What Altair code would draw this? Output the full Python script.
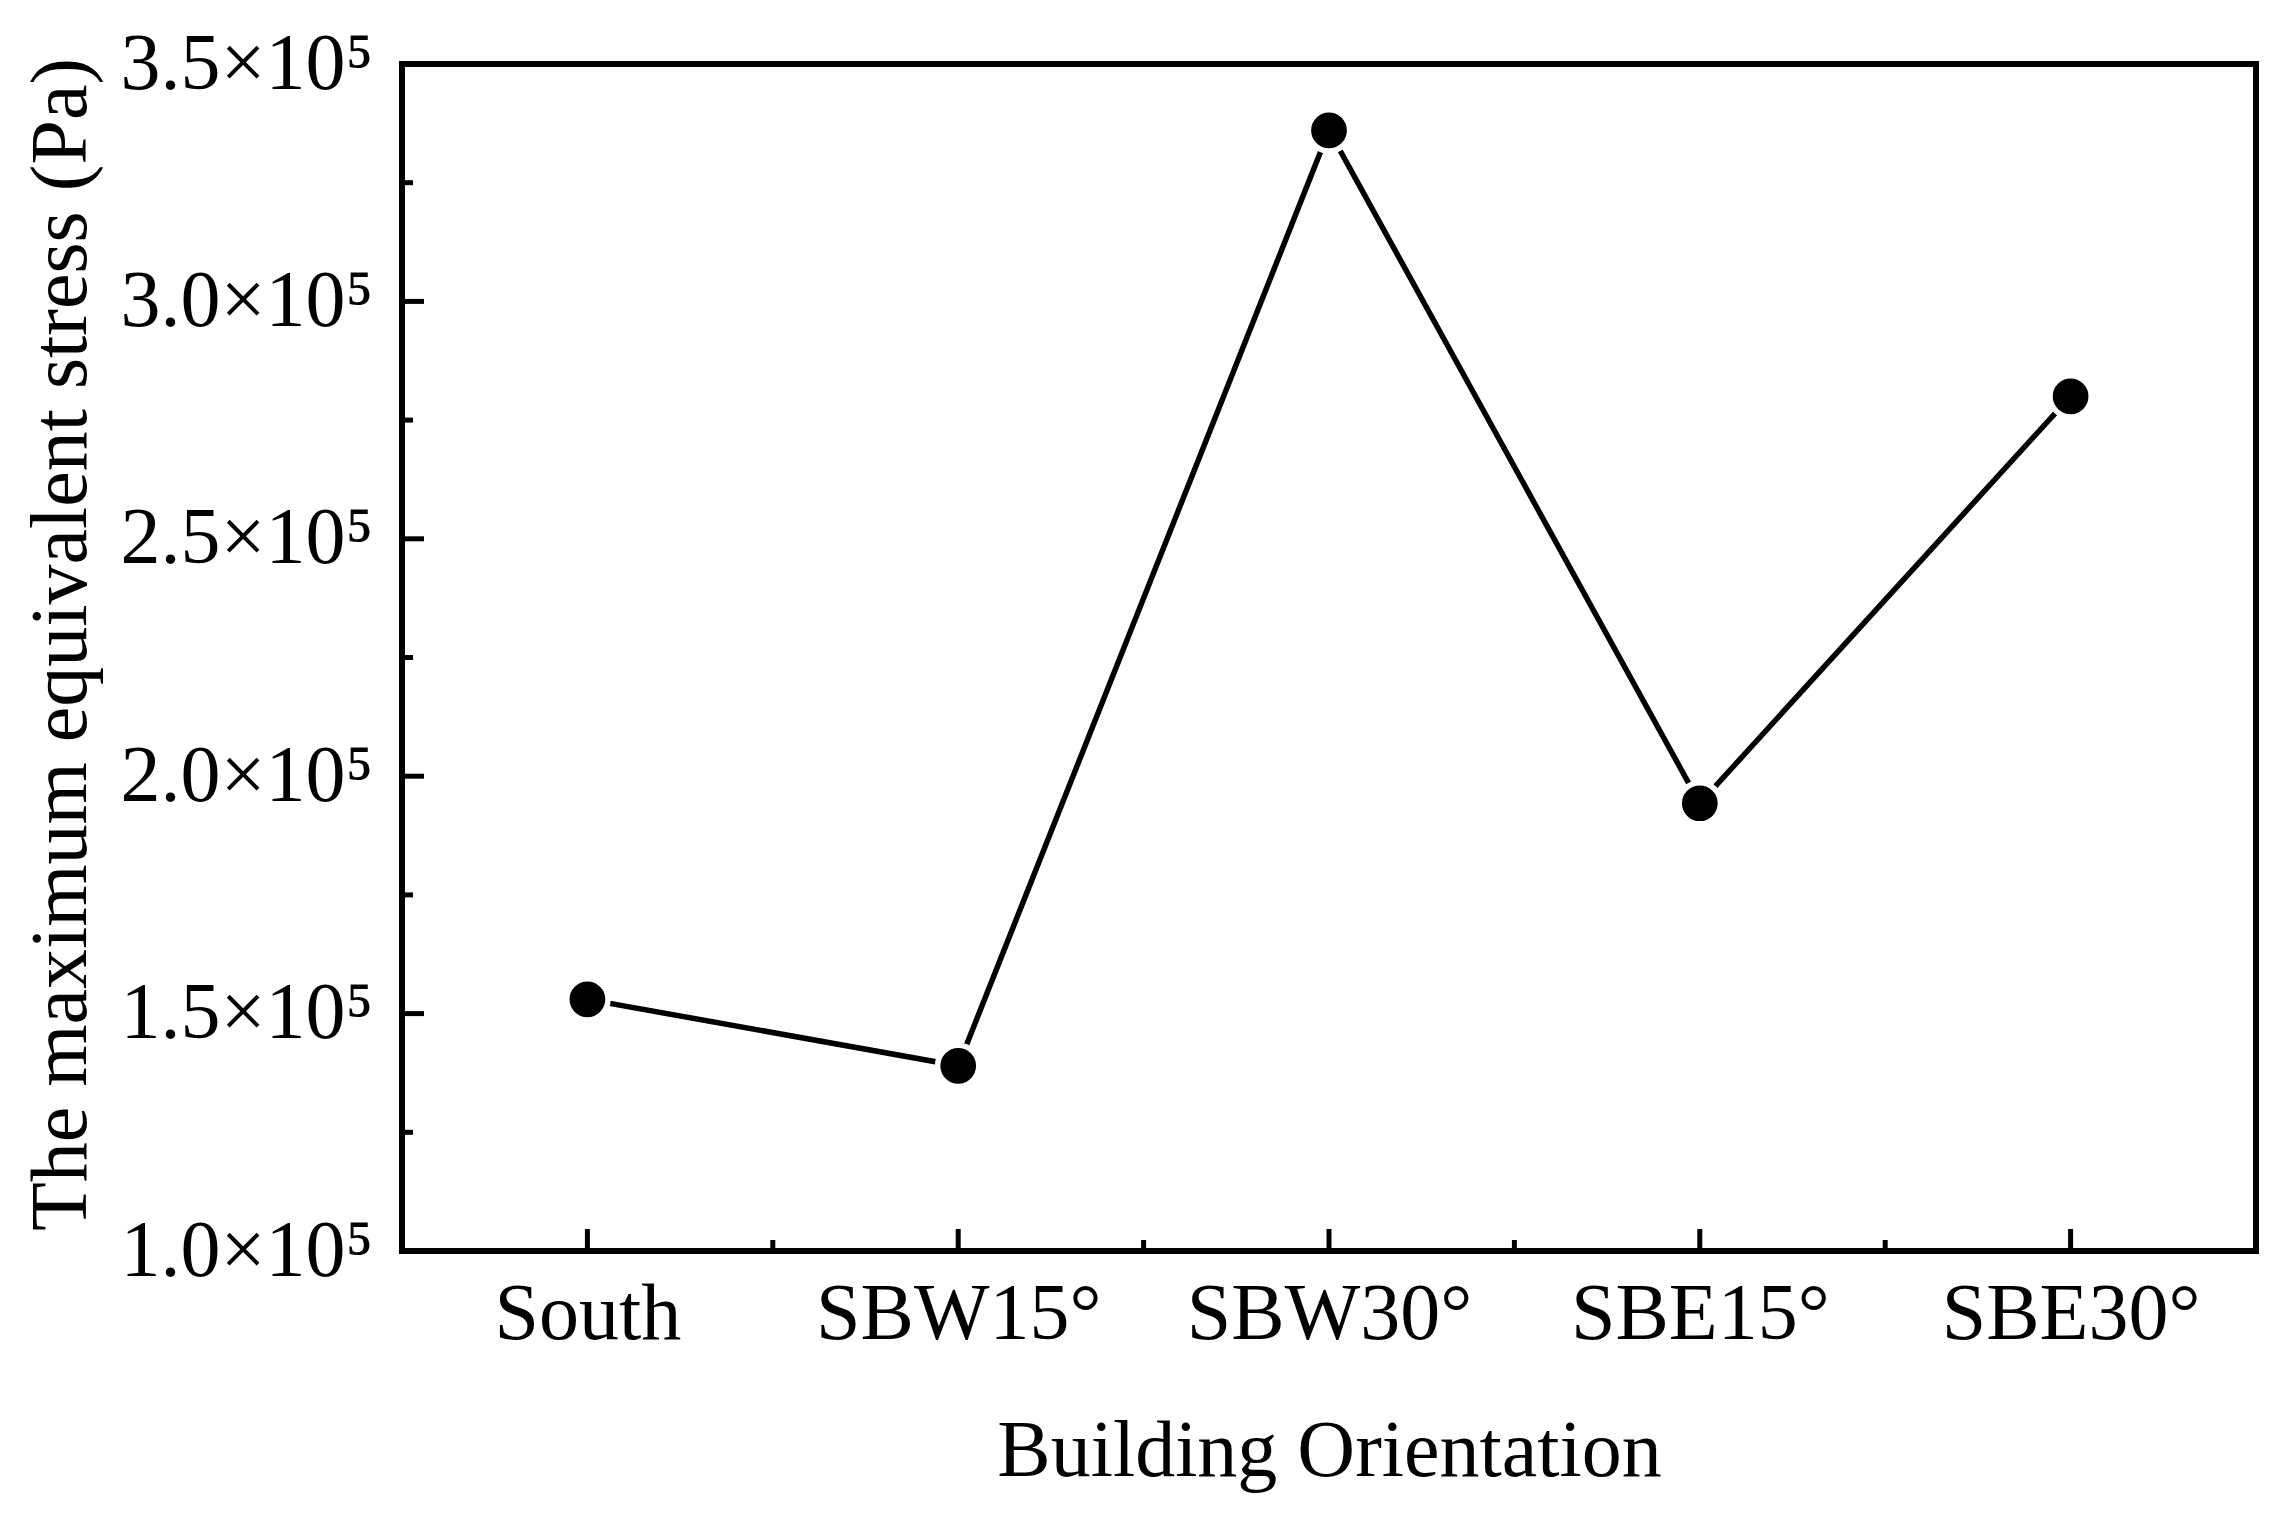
import altair as alt
import pandas as pd

categories = ["South", "SBW15°", "SBW30°", "SBE15°", "SBE30°"]
stress = [1.53e5, 1.39e5, 3.36e5, 1.943e5, 2.80e5]
y_major = [1.0e5, 1.5e5, 2.0e5, 2.5e5, 3.0e5, 3.5e5]
y_minor = [1.25e5, 1.75e5, 2.25e5, 2.75e5, 3.25e5]
x_major = [0, 1, 2, 3, 4]
x_minor = [0.5, 1.5, 2.5, 3.5]

W, H = 1854, 1187
FONT = "Liberation Serif"
FS = 80

df = pd.DataFrame({"x": list(range(len(categories))), "y": stress, "cat": categories})
xs = alt.Scale(domain=[-0.5, len(categories) - 0.5], nice=False, zero=False)
ys = alt.Scale(domain=[1.0e5, 3.5e5], nice=False, zero=False)

label_arr = "[" + ",".join("'" + c + "'" for c in categories) + "]"

x_axis = alt.Axis(
    values=x_major, labelExpr=label_arr + "[datum.value]", ticks=False, domain=False, grid=False,
    labelFont=FONT, labelFontSize=FS, labelColor="black", labelPadding=24, labelBaseline="top",
    labelLimit=2000,
    title="Building Orientation", titleFont=FONT, titleFontSize=FS, titleFontWeight="normal",
    titleColor="black", titleX=W / 2, titleY=224, titleBaseline="alphabetic", titleAnchor="middle",
    labelFlush=False, labelOverlap=False,
)
y_axis = alt.Axis(
    values=y_major, labelExpr="format(datum.value/1e5, '.1f') + '×10⁵'", ticks=False, domain=False,
    grid=False, labelFont=FONT, labelFontSize=FS, labelColor="black", labelPadding=29,
    labelBaseline="middle", labelFlush=False, labelOverlap=False, labelLimit=2000,
    title="The maximum equivalent stress (Pa)", titleFont=FONT, titleFontSize=FS,
    titleFontWeight="normal", titleColor="black", titleAngle=-90, titleX=-317, titleY=580,
    titleBaseline="alphabetic", titleAnchor="middle", titleLimit=3000,
)

XT = "Building Orientation"
YT = "The maximum equivalent stress (Pa)"


def X():
    return alt.X("x:Q", scale=xs, axis=x_axis, title=XT)


def Y():
    return alt.Y("y:Q", scale=ys, axis=y_axis, title=YT)


line = alt.Chart(df).mark_line(color="black", strokeWidth=5.5).encode(x=X(), y=Y())
pts = alt.Chart(df).mark_circle(size=1698, fill="black", stroke="white", strokeWidth=5.5, opacity=1).encode(
    x=X(), y=Y()
)

ymaj = alt.Chart(pd.DataFrame({"y": y_major})).mark_rule(color="black", strokeWidth=5).encode(
    y=Y(), x=alt.value(0), x2=alt.value(22)
)
ymin = alt.Chart(pd.DataFrame({"y": y_minor})).mark_rule(color="black", strokeWidth=5).encode(
    y=Y(), x=alt.value(0), x2=alt.value(11)
)
xmaj = alt.Chart(pd.DataFrame({"x": x_major})).mark_rule(color="black", strokeWidth=5).encode(
    x=X(), y=alt.value(H), y2=alt.value(H - 22)
)
xmin = alt.Chart(pd.DataFrame({"x": x_minor})).mark_rule(color="black", strokeWidth=5).encode(
    x=X(), y=alt.value(H), y2=alt.value(H - 11)
)

chart = alt.layer(ymaj, ymin, xmaj, xmin, line, pts).properties(
    width=W, height=H,
    autosize=alt.AutoSizeParams(type="none"),
    padding={"left": 394, "top": 56, "right": 14, "bottom": 261},
).configure(background="white").configure_view(stroke="black", strokeWidth=6)

chart.save("out.html", embed_options={"renderer": "svg", "actions": False})
